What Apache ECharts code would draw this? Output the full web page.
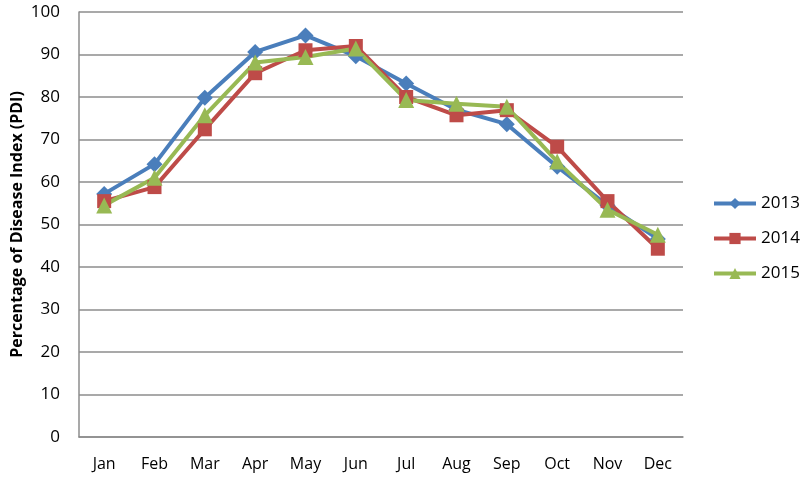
<!DOCTYPE html>
<html>
<head>
<meta charset="utf-8">
<script src="https://cdn.jsdelivr.net/npm/echarts@6/dist/echarts.min.js"></script>
<style>
  html, body { margin: 0; padding: 0; background: #fff; }
  #chart { width: 800px; height: 477px; }
</style>
</head>
<body>
<div id="chart"></div>
<script>
// months and yearly PDI values
var months = ['Jan', 'Feb', 'Mar', 'Apr', 'May', 'Jun', 'Jul', 'Aug', 'Sep', 'Oct', 'Nov', 'Dec'];
var pdi2013 = [57.2, 64.2, 79.8, 90.6, 94.5, 89.6, 83.2, 77.0, 73.6, 63.6, 54.5, 46.6];
var pdi2014 = [55.5, 58.8, 72.4, 85.6, 91.0, 92.0, 80.0, 75.7, 76.9, 68.3, 55.5, 44.3];
var pdi2015 = [54.5, 61.0, 75.7, 88.1, 89.4, 91.4, 79.3, 78.4, 77.7, 64.8, 53.5, 47.6];

var fontFam = '"Open Sans", "Liberation Sans", sans-serif';

function lineSeries(name, data, color, symbol, size) {
    return {
        name: name,
        type: 'line',
        data: data,
        symbol: symbol,
        symbolSize: size,
        lineStyle: { color: color, width: 4 },
        itemStyle: { color: color },
        animation: false
    };
}

var myChart = echarts.init(document.getElementById('chart'));

var option = {
    backgroundColor: '#fff',
    grid: { left: 79, right: 117, top: 12, bottom: 40, outerBoundsMode: 'none' },
    legend: {
        orient: 'vertical',
        left: 707,
        top: 190,
        itemWidth: 42,
        itemHeight: 14,
        itemGap: 18,
        lineStyle: { width: 4 },
        textStyle: { fontFamily: fontFam, fontSize: 17, color: '#000' },
        data: ['2013', '2014', '2015']
    },
    xAxis: {
        type: 'category',
        data: months,
        boundaryGap: true,
        axisLine: { lineStyle: { color: '#8c8c8c', width: 1.5 } },
        axisTick: { show: false },
        axisLabel: { fontFamily: fontFam, fontSize: 16, color: '#000', margin: 19, interval: 0 }
    },
    yAxis: {
        type: 'value',
        min: 0,
        max: 100,
        interval: 10,
        name: 'Percentage of Disease Index (PDI)',
        nameLocation: 'middle',
        nameGap: 54,
        nameMoveOverlap: false,
        nameTextStyle: { fontFamily: fontFam, fontSize: 16, fontWeight: 'bold', color: '#000' },
        axisLine: { show: true, lineStyle: { color: '#8c8c8c', width: 1.5 } },
        axisTick: { show: false },
        axisLabel: { fontFamily: fontFam, fontSize: 17, color: '#000', margin: 19 },
        splitLine: { lineStyle: { color: '#8c8c8c', width: 1.5 } }
    },
    series: [
        lineSeries('2013', pdi2013, '#4a7ebb', 'diamond', 16),
        lineSeries('2014', pdi2014, '#be4b48', 'rect', 14),
        lineSeries('2015', pdi2015, '#98b954', 'triangle', 16)
    ]
};

myChart.setOption(option);
</script>
</body>
</html>
